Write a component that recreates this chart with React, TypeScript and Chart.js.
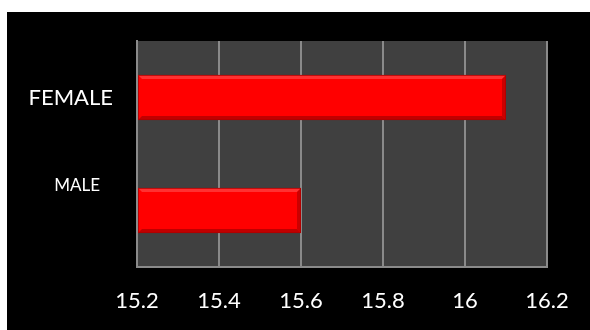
import React, { useEffect, useRef } from "react";
import { Chart, registerables } from "chart.js";

Chart.register(...registerables);

const categories = ["FEMALE", "MALE"];
const values = [16.1, 15.6];
const xMin = 15.2;
const xMax = 16.2;
const xStep = 0.2;

const labelStyles = [
  { size: 22, right: 106, dy: 0 },
  { size: 17, right: 93, dy: -25 },
];

const plotBg = {
  id: "plotBg",
  beforeDraw(chart: any) {
    const { ctx, chartArea } = chart;
    ctx.save();
    ctx.fillStyle = "#404040";
    ctx.fillRect(chartArea.left, chartArea.top, chartArea.right - chartArea.left, chartArea.bottom - chartArea.top);
    ctx.restore();
  },
};

const bevel = {
  id: "bevel",
  afterDatasetsDraw(chart: any) {
    const { ctx } = chart;
    const meta = chart.getDatasetMeta(0);
    ctx.save();
    meta.data.forEach((bar: any) => {
      const left = Math.min(bar.base, bar.x);
      const right = Math.max(bar.base, bar.x);
      const top = bar.y - bar.height / 2;
      const bottom = bar.y + bar.height / 2;
      const b = 4;
      ctx.fillStyle = "rgba(255,90,90,0.55)";
      ctx.beginPath();
      ctx.moveTo(left, top);
      ctx.lineTo(right, top);
      ctx.lineTo(right - b, top + b);
      ctx.lineTo(left + b, top + b);
      ctx.closePath();
      ctx.fill();
      ctx.fillStyle = "rgba(150,0,0,0.6)";
      ctx.beginPath();
      ctx.moveTo(left, bottom);
      ctx.lineTo(right, bottom);
      ctx.lineTo(right - b, bottom - b);
      ctx.lineTo(left + b, bottom - b);
      ctx.closePath();
      ctx.fill();
      ctx.fillStyle = "rgba(160,0,0,0.55)";
      ctx.beginPath();
      ctx.moveTo(right, top);
      ctx.lineTo(right, bottom);
      ctx.lineTo(right - b, bottom - b);
      ctx.lineTo(right - b, top + b);
      ctx.closePath();
      ctx.fill();
      ctx.strokeStyle = "rgba(170,0,0,0.8)";
      ctx.lineWidth = 1;
      ctx.strokeRect(left + 0.5, top + 0.5, right - left - 1, bottom - top - 1);
    });
    ctx.restore();
  },
};

const catLabels = {
  id: "catLabels",
  afterDraw(chart: any) {
    const { ctx } = chart;
    const yScale = chart.scales.y;
    ctx.save();
    ctx.fillStyle = "#ffffff";
    ctx.textAlign = "right";
    ctx.textBaseline = "middle";
    categories.forEach((c, i) => {
      const st = labelStyles[i];
      ctx.font = `${st.size}px Lato`;
      ctx.fillText(c, st.right, yScale.getPixelForValue(i) + st.dy);
    });
    ctx.restore();
  },
};

export default function App() {
  const ref = useRef<HTMLCanvasElement>(null);
  useEffect(() => {
    const chart = new Chart(ref.current!, {
      type: "bar",
      data: {
        labels: categories,
        datasets: [
          {
            data: values,
            base: xMin,
            backgroundColor: "#ff0000",
            borderWidth: 0,
            barPercentage: 0.4,
            categoryPercentage: 1,
          },
        ],
      },
      options: {
        indexAxis: "y",
        animation: false,
        responsive: false,
        maintainAspectRatio: false,
        layout: { padding: { left: 130, top: 29, right: 43, bottom: 17 } },
        plugins: { legend: { display: false }, tooltip: { enabled: false } },
        scales: {
          x: {
            min: xMin,
            max: xMax,
            afterFit: (s: any) => {
              s.height = 46;
            },
            ticks: {
              stepSize: xStep,
              maxRotation: 0,
              color: "#ffffff",
              padding: 21,
              font: { family: "Lato", size: 22 },
              callback: (v: any) => String(Number(Number(v).toFixed(1))),
            },
            grid: { color: "#8a8a8a", lineWidth: 2, drawTicks: false },
            border: { color: "#8a8a8a", width: 2 },
          },
          y: {
            ticks: { display: false },
            grid: { display: false, drawTicks: false },
            border: { color: "#8a8a8a", width: 2 },
          },
        },
      },
      plugins: [plotBg, bevel, catLabels],
    });
    return () => chart.destroy();
  }, []);
  return (
    <div style={{ position: "fixed", left: 7, top: 12, width: 583, height: 318, background: "#000" }}>
      <canvas ref={ref} width={583} height={318} style={{ display: "block" }} />
    </div>
  );
}
